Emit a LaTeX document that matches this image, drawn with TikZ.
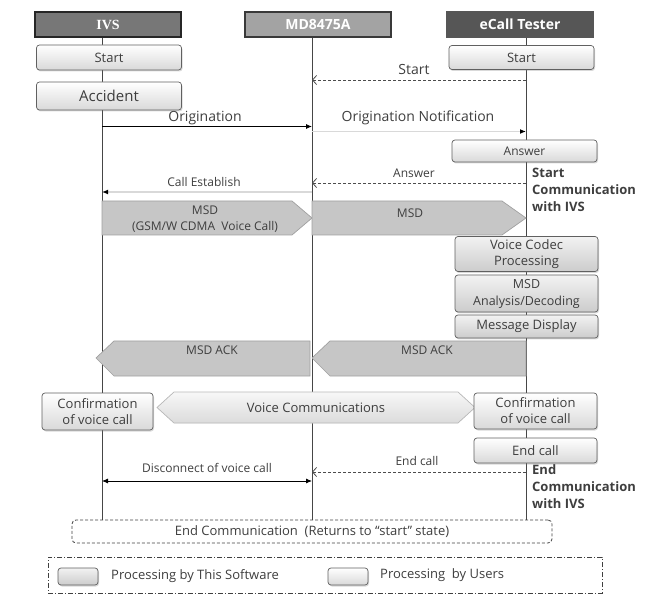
\documentclass[tikz,border=0pt]{standalone}
\usepackage{fontspec}
\setmainfont{Open Sans}
\newfontfamily\hdrserif{Liberation Serif}
\usetikzlibrary{arrows.meta,shadows}

\definecolor{txt}{HTML}{3E3E3E}
\definecolor{hdrA}{HTML}{777777}
\definecolor{hdrB}{HTML}{A3A3A3}
\definecolor{hdrC}{HTML}{565656}
\definecolor{blk}{HTML}{C6C6C6}
\definecolor{blkline}{HTML}{A0A0A0}

\tikzset{
  hdr/.style={rectangle,minimum width=146pt,minimum height=25pt,text=white,
    font=\bfseries\fontsize{14}{16}\selectfont,line width=1.6pt},
  box/.style={rectangle,rounded corners=3pt,draw=gray!75!black,line width=.7pt,
    align=center,text=txt,inner sep=1pt,font=\fontsize{13}{16}\selectfont,
    drop shadow={shadow xshift=1pt,shadow yshift=-1.5pt,opacity=.3}},
  usrbox/.style={box,top color=white,bottom color=gray!30},
  swbox/.style={box,top color=gray!10,bottom color=gray!40},
  lbl/.style={text=txt,font=\fontsize{12}{14}\selectfont,inner sep=1pt},
  life/.style={draw=gray!55!black,line width=.8pt},
  msg/.style={-{Latex[length=6pt,width=5pt,color=black]},line width=.8pt},
  faint/.style={msg,draw=gray!30,line width=1.6pt},
  back/.style={draw=gray!60!black,line width=.8pt,dash pattern=on 3pt off 2pt,
    -{Straight Barb[length=4pt,width=9pt]}},
  blkarrow/.style={fill=blk,draw=blkline,line width=.7pt},
  note/.style={text=txt,font=\bfseries\fontsize{13}{17}\selectfont,align=left,
    anchor=north west,inner sep=0pt},
}

\begin{document}
\begin{tikzpicture}[x=1pt,y=-1pt]
  \useasboundingbox (0,0) rectangle (649,599);

  % lifelines
  \coordinate (ivs-t) at (102,37);  \coordinate (ivs-b) at (102,520);
  \coordinate (md-t)  at (312,37);  \coordinate (md-b)  at (312,520);
  \coordinate (tst-t) at (526,37);  \coordinate (tst-b) at (526,520);
  \foreach \a in {ivs,md,tst}
    \draw[life] (\a-t) -- (\a-b);

  \node[hdr,fill=hdrA,draw=black!85] (ivs) at (108,24.5) {\hdrserif IVS};
  \node[hdr,fill=hdrB,draw=gray!45!black] (md) at (318,24.5) {MD8475A};
  \node[hdr,fill=hdrC,draw=hdrC] (tst) at (520,24.5) {eCall Tester};

  % messages
  \coordinate (tst-s) at (526,80);    \coordinate (md-s) at (312,80);
  \coordinate (ivs-o) at (102,126.5); \coordinate (md-o) at (312,126.5);
  \coordinate (md-n)  at (312,131.5); \coordinate (tst-n) at (526,131.5);
  \coordinate (tst-a) at (526,183);   \coordinate (md-a) at (312,183);
  \coordinate (md-c)  at (312,192);   \coordinate (ivs-c) at (102,192);
  \coordinate (tst-e) at (526,472);   \coordinate (md-e) at (312,472);
  \coordinate (ivs-d) at (102,481);   \coordinate (md-d) at (312,481);

  \draw[back] (tst-s) -- (md-s);
  \draw[msg] (ivs-o) -- (md-o);
  \draw[faint] (md-n) -- (tst-n);
  \draw[back] (tst-a) -- (md-a);
  \draw[faint] (md-c) -- (ivs-c);
  \draw[back] (tst-e) -- (md-e);
  \draw[msg,{Latex[length=6pt,width=5pt]}-{Latex[length=6pt,width=5pt]}] (ivs-d) -- (md-d);

  \node[lbl,font=\fontsize{14}{16}\selectfont] (l-start) at (414,70) {Start};
  \node[lbl,font=\fontsize{14}{16}\selectfont] (l-orig) at (205,118) {Origination};
  \node[lbl,font=\fontsize{14}{16}\selectfont] (l-notif) at (418,118) {Origination Notification};
  \node[lbl] (l-answer) at (414,173) {Answer};
  \node[lbl] (l-estab) at (204,182) {Call Establish};
  \node[lbl] (l-end) at (417,461) {End call};
  \node[lbl] (l-disc) at (207,468) {Disconnect of voice call};

  % block arrows
  \filldraw[blkarrow] (102,201) -- (292,201) -- (312,218) -- (292,235) -- (102,235) -- cycle;
  \filldraw[blkarrow] (312,201) -- (502,201) -- (526,218) -- (502,235) -- (312,235) -- cycle;
  \filldraw[blkarrow] (96,358) -- (114,341) -- (310,341) -- (310,376) -- (114,376) -- cycle;
  \filldraw[blkarrow] (312,358) -- (330,341) -- (526,341) -- (526,376) -- (330,376) -- cycle;
  \filldraw[blkarrow,draw=gray!55,top color=gray!6,bottom color=gray!28]
    (157,407.5) -- (174,392) -- (458,392) -- (475,407.5) -- (458,423) -- (174,423) -- cycle;
  \node[lbl,align=center,font=\fontsize{12}{16}\selectfont] (msd1) at (205,219)
    {MSD\\(GSM/W CDMA\ \ Voice Call)};
  \node[lbl] (msd2) at (410,213) {MSD};
  \node[lbl] (ack1) at (212,350) {MSD ACK};
  \node[lbl] (ack2) at (427,350) {MSD ACK};
  \node[lbl,font=\fontsize{13}{15}\selectfont] (voice) at (316,407.5) {Voice Communications};

  % processing boxes
  \node[usrbox,minimum width=145pt,minimum height=25pt] (ivs-start) at (109,57.5) {Start};
  \node[usrbox,minimum width=145pt,minimum height=28pt,font=\fontsize{15}{17}\selectfont]
    (accident) at (109,96) {Accident};
  \node[usrbox,minimum width=145pt,minimum height=24pt] (tst-start) at (521.5,57.5) {Start};
  \node[usrbox,minimum width=145pt,minimum height=22pt,font=\fontsize{12}{14}\selectfont]
    (answer) at (524.5,151) {Answer};
  \node[swbox,minimum width=143pt,minimum height=35pt] (codec) at (526.5,254)
    {Voice Codec\\Processing};
  \node[swbox,minimum width=143pt,minimum height=37pt,font=\fontsize{12.5}{17}\selectfont]
    (analysis) at (526.5,293.5) {MSD\\Analysis/Decoding};
  \node[swbox,minimum width=143pt,minimum height=23pt] (display) at (526.5,326.5)
    {Message Display};
  \node[usrbox,minimum width=111pt,minimum height=37pt] (ivs-conf) at (97.5,411.5)
    {Confirmation\\of voice call};
  \node[usrbox,minimum width=123pt,minimum height=36pt] (tst-conf) at (535.5,411)
    {Confirmation\\of voice call};
  \node[usrbox,minimum width=123pt,minimum height=25pt] (endcall) at (535.5,450.5)
    {End call};

  \node[note] (startcomm) at (532,168) {Start\\Communication\\with IVS};
  \node[note] (endcomm-note) at (532,464) {End\\Communication\\with IVS};

  \node[draw=gray!50!black,line width=.8pt,dash pattern=on 3pt off 2pt,rounded corners=4pt,
    minimum width=480pt,minimum height=23pt,text=txt,font=\fontsize{13}{15}\selectfont]
    (endcomm) at (312,531.5) {End Communication\ \ (Returns to “start” state)};

  % legend
  \node[draw=gray!50!black,line width=.8pt,dash pattern=on 5pt off 2pt on 1pt off 2pt,
    minimum width=554pt,minimum height=36pt] (legend) at (325,575) {};
  \node[swbox,minimum width=40pt,minimum height=17pt] (key-sw) at (78,576.5) {};
  \node[usrbox,minimum width=40pt,minimum height=17pt] (key-usr) at (348,576.5) {};
  \node[lbl,anchor=west,font=\fontsize{13}{15}\selectfont] (key-sw-text) at (110,576)
    {Processing by This Software};
  \node[lbl,anchor=west,font=\fontsize{13}{15}\selectfont] (key-usr-text) at (379,575)
    {Processing\ \ by Users};
\end{tikzpicture}
\end{document}
